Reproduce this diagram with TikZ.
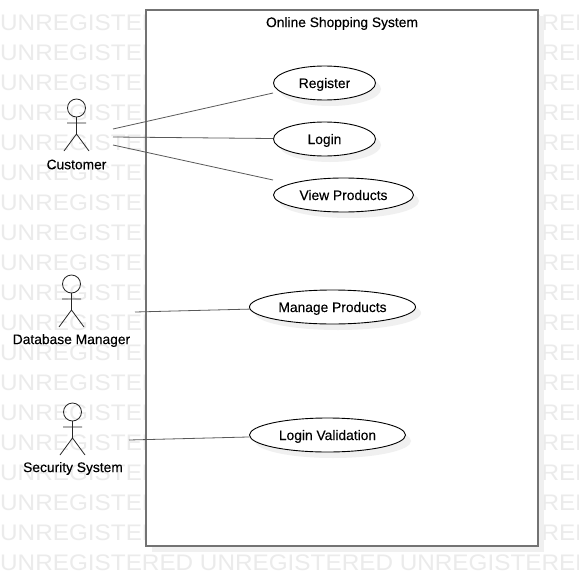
\documentclass[tikz,border=0pt]{standalone}
\usepackage{fontspec}
\setmainfont{Liberation Sans}
\newfontfamily\markfont[FakeStretch=1.08]{Liberation Sans}
\newfontfamily\labelfont[FakeBold=0.25]{Liberation Sans}
\tikzset{
  mark text/.style={anchor=west,inner sep=0pt,text=black!8,font=\markfont\fontsize{22.5}{25}\selectfont},
  usecase/.style={ellipse,draw=black,line width=0.9pt,fill=white,minimum height=34pt,inner sep=0pt,font=\labelfont\fontsize{13.8}{15}\selectfont,text=black,text height=11pt,text depth=1pt},
  ushadow/.style={ellipse,fill=black!6,draw=none,minimum height=34pt,inner sep=0pt},
  stick/.style={draw=black!85,line width=0.8pt},
  actorlabel/.style={font=\labelfont\fontsize{13.8}{15}\selectfont,text=black,inner sep=0pt},
  assoc/.style={draw=black!65,line width=0.8pt},
  pics/stickman/.style={code={
    \draw[stick] (0,-9) circle (9);
    \draw[stick] (0,0) -- (0,17) (-9.5,6) -- (9.5,6) (-12.5,34) -- (0,17) -- (12.5,34);
  }}
}
\usetikzlibrary{shapes.geometric}
\begin{document}
\begin{tikzpicture}[x=1pt,y=-1pt]
\useasboundingbox (0,0) rectangle (578,586);
\fill[white] (0,0) rectangle (578,586);
\begin{scope}
\clip (0,0) rectangle (578,586);
\foreach \r in {0,...,18}{
  \node[mark text] at (0,22.5+30*\r) {UNREGISTERED UNREGISTERED UNREGISTERED};
}
\end{scope}
% system boundary
\fill[black!6] (152,16) rectangle (544,552);
\draw[draw=black!55,line width=2pt,fill=white] (146,10) rectangle (538,546);
\node[actorlabel] (title) at (342,23.5) {Online Shopping System};
% use case shadows
\node[ushadow,minimum width=102pt] at (330,89) {};
\node[ushadow,minimum width=102pt] at (330,145) {};
\node[ushadow,minimum width=140pt] at (349,201) {};
\node[ushadow,minimum width=166pt] at (338,313) {};
\node[ushadow,minimum width=156pt] at (333,441) {};
% use cases
\node[usecase,minimum width=102pt] (register) at (324.5,83) {Register};
\node[usecase,minimum width=102pt] (login) at (324.5,139) {Login};
\node[usecase,minimum width=140pt] (view) at (343.5,195) {View Products};
\node[usecase,minimum width=166pt] (manage) at (332.5,307) {Manage Products};
\node[usecase,minimum width=156pt] (validate) at (327.5,435) {Login Validation};
% actors
\pic at (76.5,117) {stickman};
\node[actorlabel] (customer) at (76.5,164.5) {Customer};
\pic at (71.5,293) {stickman};
\node[actorlabel] (dbm) at (71.5,340.5) {Database Manager};
\pic at (72.5,421) {stickman};
\node[actorlabel] (sec) at (73,468.5) {Security System};
% connector free ends
\coordinate (c1) at (113,129);
\coordinate (c2) at (113,137);
\coordinate (c3) at (113,145);
\coordinate (d1) at (135,312);
\coordinate (s1) at (129,440);
\draw[assoc] (c1) -- ([yshift=-10pt]register.west);
\draw[assoc] (c2) -- (login);
\draw[assoc] (c3) -- ([yshift=15pt]view.west);
\draw[assoc] (d1) -- (manage);
\draw[assoc] (s1) -- (validate);
\end{tikzpicture}
\end{document}
